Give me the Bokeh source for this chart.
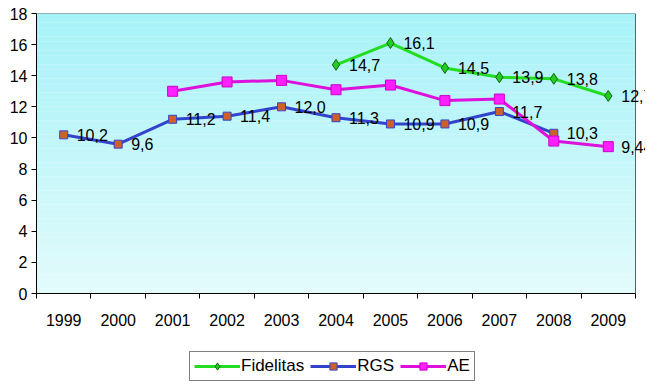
from bokeh.plotting import figure
from bokeh.models import FixedTicker, Legend, LegendItem, Range1d, LabelSet, ColumnDataSource
from bokeh.layouts import column
from bokeh.embed import file_html
from bokeh.resources import INLINE
from bokeh.core.properties import value

years = [1999, 2000, 2001, 2002, 2003, 2004, 2005, 2006, 2007, 2008, 2009]
fidelitas = [None, None, None, None, None, 14.7, 16.1, 14.5, 13.9, 13.8, 12.7]
rgs = [10.2, 9.6, 11.2, 11.4, 12.0, 11.3, 10.9, 10.9, 11.7, 10.3, None]
ae = [None, None, 13.0, 13.6, 13.7, 13.1, 13.4, 12.4, 12.5, 9.8, 9.44]
ae_labeled = [False, False, False, False, False, False, False, False, False, False, True]
y_ticks = [0, 2, 4, 6, 8, 10, 12, 14, 16, 18]

FONT = "Liberation Sans"
FS = "16px"

W = 645
LEFT = 36
AREA_W = 599          # visible plot-area width in px
x0, x1 = years[0] - 0.5, years[-1] + 0.5
extra = (W - LEFT - AREA_W) * (x1 - x0) / AREA_W   # room on the right for labels

p = figure(width=W, height=350, output_backend="svg", toolbar_location=None,
           x_range=Range1d(x0, x1 + extra),
           y_range=Range1d(y_ticks[0], y_ticks[-1]),
           min_border_left=LEFT, min_border_right=0, min_border_top=13, min_border_bottom=57)
p.background_fill_color = "white"
p.border_fill_color = "white"
p.outline_line_color = None
p.xgrid.visible = False
p.ygrid.visible = False

# vertical gradient background of the plot area
n = 60
lo, hi = y_ticks[0], y_ticks[-1]
c_bot = (0xE2, 0xFB, 0xFB)
c_top = (0xA6, 0xF2, 0xF8)
bottoms, tops, cols = [], [], []
for i in range(n):
    t = (i + 0.5) / n
    c = tuple(int(round(c_bot[k] + (c_top[k] - c_bot[k]) * t)) for k in range(3))
    bottoms.append(lo + (hi - lo) * i / n)
    tops.append(lo + (hi - lo) * (i + 1) / n + 0.01)
    cols.append("#%02x%02x%02x" % c)
p.quad(left=x0, right=x1, bottom=bottoms, top=tops, fill_color=cols, line_color=None)
p.quad(left=[x0], right=[x1], bottom=[lo], top=[hi], fill_color=None,
       line_color="#506868", line_width=1)

def series(vals):
    xs = [x for x, v in zip(years, vals) if v is not None]
    ys = [v for v in vals if v is not None]
    return xs, ys

def lab(v):
    return str(v).replace(".", ",")

STYLE = {
    "Fidelitas": dict(line="#22DD22", marker="diamond", size=11, fill="#22CC22", mline="#116611"),
    "RGS": dict(line="#3344CC", marker="square", size=8, fill="#D0602A", mline="#3344CC"),
    "AE": dict(line="#DD10DD", marker="square", size=10, fill="#FF20FF", mline="#CC00CC"),
}

def draw(fig, name, xs, ys):
    s = STYLE[name]
    l = fig.line(xs, ys, line_color=s["line"], line_width=3)
    m = fig.scatter(xs, ys, marker=s["marker"], size=s["size"], fill_color=s["fill"],
                    line_color=s["mline"], line_width=1)
    return l, m

fx, fy = series(fidelitas)
rx, ry = series(rgs)
ax, ay = series(ae)
draw(p, "Fidelitas", fx, fy)
draw(p, "RGS", rx, ry)
draw(p, "AE", ax, ay)

# data labels
lx, ly, lt = [], [], []
for xs_, ys_ in [(fx, fy), (rx, ry)]:
    for x, y in zip(xs_, ys_):
        lx.append(x); ly.append(y); lt.append(lab(y))
for x, v, f in zip(years, ae, ae_labeled):
    if f and v is not None:
        lx.append(x); ly.append(v); lt.append(lab(v))
src = ColumnDataSource(dict(x=lx, y=ly, t=lt))
labels = LabelSet(x="x", y="y", text="t", source=src, x_offset=13, y_offset=0,
                  text_baseline="middle", text_align="left",
                  text_font=value(FONT), text_font_size=value(FS), text_color="black")
p.add_layout(labels)

# axes
p.xaxis.ticker = FixedTicker(ticks=years,
                             minor_ticks=[y - 0.5 for y in years] + [years[-1] + 0.5])
p.xaxis.bounds = (x0, x1)
p.xaxis.major_tick_out = 0
p.xaxis.major_tick_in = 0
p.xaxis.minor_tick_out = 5
p.xaxis.minor_tick_in = 0
p.xaxis.minor_tick_line_color = "black"
p.xaxis.axis_line_color = "black"
p.xaxis.major_label_standoff = 15
p.yaxis.ticker = FixedTicker(ticks=y_ticks, minor_ticks=[])
p.yaxis.major_tick_out = 5
p.yaxis.major_tick_in = 0
p.yaxis.axis_line_color = "black"
p.yaxis.major_label_standoff = 4
for a in (p.xaxis, p.yaxis):
    a.major_label_text_font = FONT
    a.major_label_text_font_size = FS
    a.major_label_text_color = "black"

# legend in its own strip below (glyphs use the real series, outside this strip's range)
q = figure(width=W, height=32, output_backend="svg", toolbar_location=None,
           x_range=Range1d(0, 1), y_range=Range1d(0, 1),
           min_border_left=0, min_border_right=0, min_border_top=0, min_border_bottom=0)
q.axis.visible = False
q.grid.visible = False
q.outline_line_color = None
q.background_fill_color = "white"
q.border_fill_color = "white"
items = []
for name, (xs_, ys_) in zip(["Fidelitas", "RGS", "AE"], [(fx, fy), (rx, ry), (ax, ay)]):
    l, m = draw(q, name, xs_, ys_)
    items.append(LegendItem(label=name, renderers=[l, m]))
legend = Legend(items=items, orientation="horizontal", location=(153, 1))
legend.label_text_font = FONT
legend.label_text_font_size = "17px"
legend.label_text_color = "black"
legend.border_line_color = "black"
legend.border_line_width = 1
legend.glyph_width = 46
legend.glyph_height = 18
legend.label_standoff = 1
legend.spacing = 6
legend.padding = 4
legend.margin = 0
legend.label_height = 18
q.add_layout(legend, "center")

open("out.html", "w").write(file_html(column(p, q, spacing=0), INLINE))
